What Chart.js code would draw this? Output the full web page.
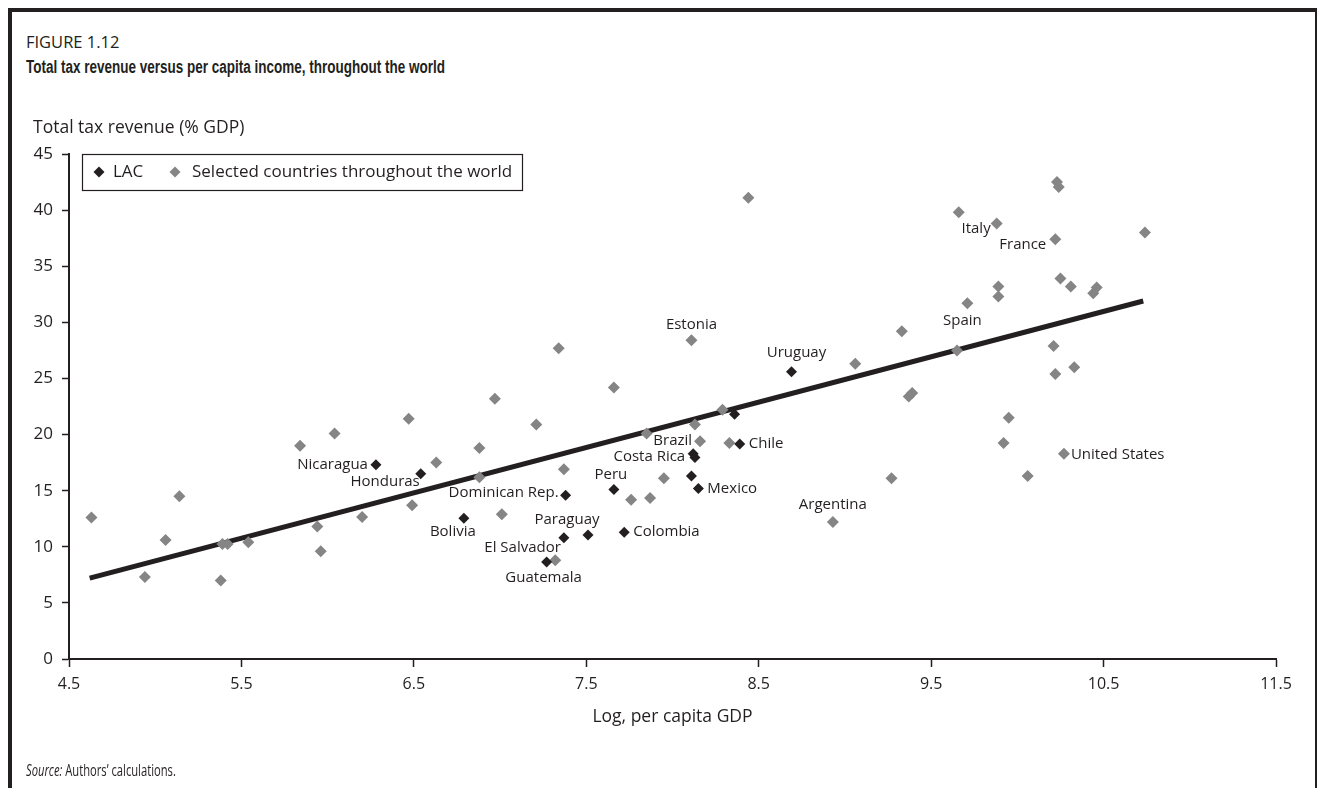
<!DOCTYPE html>
<html>
<head>
<meta charset="utf-8">
<title>Figure 1.12</title>
<script src="https://cdn.jsdelivr.net/npm/chart.js@4.4.1/dist/chart.umd.min.js"></script>
<style>
  html, body { margin: 0; padding: 0; background: #fff; }
  body { width: 1317px; height: 788px; position: relative; overflow: hidden; font-family: "Open Sans", "Noto Sans", sans-serif; color: #231f20; }
  #frame { position: absolute; left: 8px; top: 8px; width: 1303px; height: 900px; border-top: 4px solid #231f20; border-left: 4px solid #231f20; border-right: 2px solid #231f20; }
  .narrow { position: absolute; left: 26px; white-space: nowrap; transform-origin: left top; }
  #fig { top: 30px; font-size: 17px; transform: scaleX(0.97); }
  #ttl { top: 57px; font-size: 18px; font-weight: bold; font-family: "Liberation Sans", Arial, sans-serif; transform: scaleX(0.75); }
  #src { top: 759px; font-size: 16px; transform: scaleX(0.70); }
  #chart { position: absolute; left: 0; top: 0; }
</style>
</head>
<body>
<div id="frame"></div>
<div id="fig" class="narrow">FIGURE 1.12</div>
<div id="ttl" class="narrow">Total tax revenue versus per capita income, throughout the world</div>
<canvas id="chart" width="1317" height="788"></canvas>
<div id="src" class="narrow"><i>Source:</i> Authors’ calculations.</div>

<script>
// ---- data ----
const xTicks = [4.5, 5.5, 6.5, 7.5, 8.5, 9.5, 10.5, 11.5];
const xTickLabels = ['4.5', '5.5', '6.5', '7.5', '8.5', '9.5', '10.5', '11.5'];

// Latin America and the Caribbean
const lacX = [6.28, 6.54, 6.79, 7.38, 7.27, 7.37, 7.51, 7.66, 7.72, 8.12, 8.13, 8.11, 8.15, 8.36, 8.39, 8.69];
const lacY = [17.3, 16.5, 12.55, 14.6, 8.65, 10.8, 11.05, 15.1, 11.3, 18.3, 17.95, 16.3, 15.2, 21.8, 19.15, 25.6];
const lacNames = ['Nicaragua', 'Honduras', 'Bolivia', 'Dominican Rep.', 'Guatemala', 'El Salvador', 'Paraguay',
  'Peru', 'Colombia', 'Costa Rica', '', '', 'Mexico', '', 'Chile', 'Uruguay'];

// Selected countries throughout the world
const worldX = [4.63, 4.94, 5.06, 5.14, 5.38, 5.39, 5.42, 5.54, 5.84, 5.94, 5.96, 6.04, 6.20, 6.47, 6.49, 6.63,
  6.88, 6.88, 6.97, 7.01, 7.21, 7.32, 7.34, 7.37, 7.66, 7.76, 7.85, 7.87, 7.95, 8.11, 8.13, 8.16, 8.29, 8.33,
  8.44, 8.93, 9.06, 9.27, 9.33, 9.37, 9.39, 9.65, 9.66, 9.71, 9.88, 9.89, 9.89, 9.92, 9.95, 10.06, 10.21,
  10.22, 10.22, 10.23, 10.24, 10.25, 10.27, 10.31, 10.33, 10.44, 10.46, 10.74];
const worldY = [12.6, 7.3, 10.6, 14.5, 7.0, 10.25, 10.25, 10.4, 19.0, 11.8, 9.6, 20.1, 12.65, 21.4, 13.7, 17.5,
  18.8, 16.2, 23.2, 12.9, 20.9, 8.8, 27.7, 16.9, 24.2, 14.2, 20.1, 14.35, 16.1, 28.4, 20.9, 19.4, 22.2, 19.25,
  41.1, 12.2, 26.3, 16.1, 29.2, 23.4, 23.7, 27.5, 39.8, 31.7, 38.8, 33.2, 32.3, 19.25, 21.5, 16.3, 27.9,
  25.4, 37.4, 42.5, 42.05, 33.9, 18.3, 33.2, 26.0, 32.6, 33.1, 38.0];
const worldNames = ['', '', '', '', '', '', '', '', '', '', '', '', '', '', '', '',
  '', '', '', '', '', '', '', '', '', '', '', '', '', 'Estonia', '', 'Brazil', '', '',
  '', 'Argentina', '', '', '', '', '', '', '', 'Spain', 'Italy', '', '', '', '', '', '',
  '', 'France', '', '', '', 'United States', '', '', '', '', ''];

// fitted line end points
const fitX = [4.62, 10.73];
const fitY = [7.2, 31.9];

// ---- label placement: [textAlign, dx, dy] relative to the point ----
const labelPlace = {
  'Nicaragua': ['right', -8, 0],
  'Honduras': ['right', -1, 8],
  'Bolivia': ['center', -11, 14],
  'Dominican Rep.': ['right', -7, -2],
  'Guatemala': ['center', -3, 16],
  'El Salvador': ['right', -3, 10],
  'Paraguay': ['center', -21, -15],
  'Peru': ['center', -3, -15],
  'Colombia': ['left', 9, 0],
  'Costa Rica': ['right', -8, 3],
  'Mexico': ['left', 9, 0],
  'Chile': ['left', 9, 0],
  'Uruguay': ['center', 5, -19],
  'Estonia': ['center', 0, -16],
  'Brazil': ['right', -8, -1],
  'Argentina': ['center', 0, -17],
  'Spain': ['center', -5, 17],
  'Italy': ['right', -6, 5],
  'France': ['right', -9, 5],
  'United States': ['left', 7, 1]
};

const INK = '#231f20';
const GREY = '#858585';
const FONT = '"Open Sans", "Noto Sans", sans-serif';

const toPoints = (xs, ys) => xs.map((x, i) => ({ x: x, y: ys[i] }));

// Draws axis titles, legend box and country labels
const annotatePlugin = {
  id: 'annotate',
  afterDraw(chart) {
    const ctx = chart.ctx;
    const area = chart.chartArea;
    const xs = chart.scales.x;
    const ys = chart.scales.y;
    ctx.save();
    ctx.fillStyle = INK;
    ctx.textBaseline = 'middle';

    // axis titles
    ctx.font = '17.5px ' + FONT;
    ctx.textAlign = 'left';
    ctx.fillText('Total tax revenue (% GDP)', 33, 128);
    ctx.textAlign = 'center';
    ctx.fillText('Log, per capita GDP', (area.left + area.right) / 2, 717);

    // legend
    const lx = area.left + 13, ly = area.top, lw = 440, lh = 36;
    ctx.strokeStyle = INK;
    ctx.lineWidth = 1.2;
    ctx.strokeRect(lx + 0.5, ly + 0.5, lw, lh);
    const cy = ly + lh / 2;
    ctx.fillStyle = INK;
    Chart.helpers.drawPoint(ctx, { pointStyle: 'rectRot', radius: 5.5, rotation: 0, borderWidth: 0 }, lx + 17, cy);
    ctx.fillStyle = GREY;
    Chart.helpers.drawPoint(ctx, { pointStyle: 'rectRot', radius: 5.5, rotation: 0, borderWidth: 0 }, lx + 93, cy);
    ctx.fillStyle = INK;
    ctx.textAlign = 'left';
    ctx.font = '17px ' + FONT;
    ctx.fillText('LAC', lx + 31, cy);
    ctx.fillText('Selected countries throughout the world', lx + 110, cy);

    // country labels
    ctx.font = '15px ' + FONT;
    const drawLabels = (xsArr, ysArr, names) => {
      names.forEach((name, i) => {
        if (!name) return;
        const p = labelPlace[name];
        ctx.textAlign = p[0];
        ctx.fillText(name, xs.getPixelForValue(xsArr[i]) + p[1], ys.getPixelForValue(ysArr[i]) + p[2]);
      });
    };
    drawLabels(lacX, lacY, lacNames);
    drawLabels(worldX, worldY, worldNames);
    ctx.restore();
  }
};

new Chart(document.getElementById('chart'), {
  type: 'scatter',
  data: {
    datasets: [
      {
        label: 'LAC',
        data: toPoints(lacX, lacY),
        pointStyle: 'rectRot',
        pointRadius: 5.5,
        backgroundColor: INK,
        borderWidth: 0,
        order: 1
      },
      {
        label: 'Selected countries throughout the world',
        data: toPoints(worldX, worldY),
        pointStyle: 'rectRot',
        pointRadius: 6,
        backgroundColor: GREY,
        borderWidth: 0,
        order: 2
      },
      {
        type: 'line',
        label: 'fit',
        data: toPoints(fitX, fitY),
        borderColor: INK,
        borderWidth: 5,
        pointRadius: 0,
        fill: false,
        order: 3
      }
    ]
  },
  options: {
    responsive: false,
    animation: false,
    layout: { padding: { left: 0, top: 154, right: 41, bottom: 0 } },
    plugins: {
      legend: { display: false },
      tooltip: { enabled: false }
    },
    scales: {
      x: {
        type: 'linear',
        min: 4.5,
        max: 11.5,
        afterBuildTicks: (scale) => { scale.ticks = xTicks.map(v => ({ value: v })); },
        afterFit: (scale) => { scale.height = 129; },
        grid: { drawOnChartArea: false, drawTicks: true, tickLength: 8, tickColor: INK, tickWidth: 1.5 },
        border: { display: true, color: INK, width: 2 },
        ticks: {
          padding: 8,
          color: INK,
          font: { family: FONT, size: 16 },
          maxRotation: 0,
          callback: (v) => xTickLabels[xTicks.indexOf(v)]
        }
      },
      y: {
        min: 0,
        max: 45,
        afterFit: (scale) => { scale.width = 69; },
        grid: { drawOnChartArea: false, drawTicks: true, tickLength: 7, tickColor: INK, tickWidth: 1.5 },
        border: { display: true, color: INK, width: 2 },
        ticks: {
          stepSize: 5,
          padding: 9,
          color: INK,
          font: { family: FONT, size: 17 }
        }
      }
    }
  },
  plugins: [annotatePlugin]
});
</script>
</body>
</html>
